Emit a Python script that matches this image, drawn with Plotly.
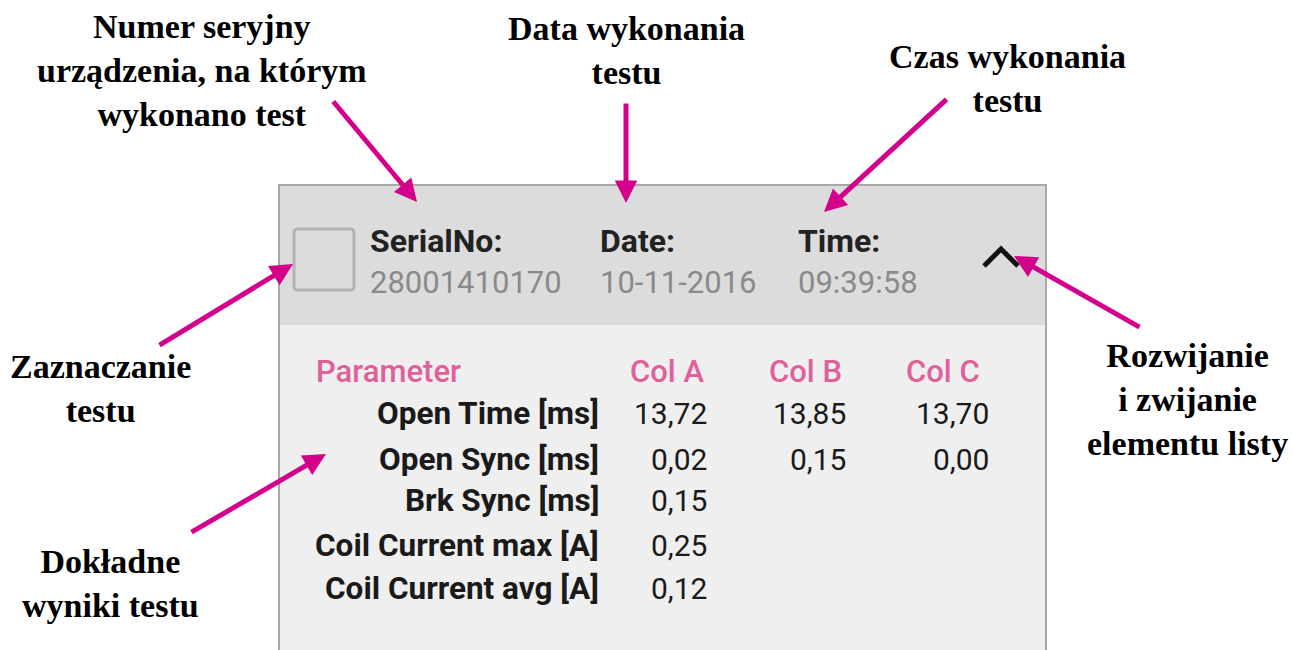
import plotly.graph_objects as go

# ---- data ----
header_labels = ["SerialNo:", "Date:", "Time:"]
header_values = ["28001410170", "10-11-2016", "09:39:58"]
table_columns = ["Parameter", "Col A", "Col B", "Col C"]
parameters = ["Open Time [ms]", "Open Sync [ms]", "Brk Sync [ms]",
              "Coil Current max [A]", "Coil Current avg [A]"]
col_a = ["13,72", "0,02", "0,15", "0,25", "0,12"]
col_b = ["13,85", "0,15", None, None, None]
col_c = ["13,70", "0,00", None, None, None]
callouts = [
    "Numer seryjny<br>urządzenia, na którym<br>wykonano test",
    "Data wykonania<br>testu",
    "Czas wykonania<br>testu",
    "Zaznaczanie<br>testu",
    "Dokładne<br>wyniki testu",
    "Rozwijanie<br>i zwijanie<br>elementu listy",
]

W, H = 1293, 650
MAG = "#d4008c"
PINK = "#e0609a"
SERIF = "Liberation Serif"
SANS = "Roboto"

fig = go.Figure()
shapes = []
ann = []

# panel
shapes.append(dict(type="rect", x0=279, x1=1046, y0=185, y1=660,
                   fillcolor="#efefef", line=dict(color="#a8a8a8", width=2), layer="below"))
shapes.append(dict(type="rect", x0=280, x1=1045, y0=186, y1=325,
                   fillcolor="#dcdcdc", line=dict(width=0), layer="below"))
# checkbox
shapes.append(dict(type="path",
                   path="M 298,229 L 350,229 Q 354,229 354,233 L 354,286 Q 354,290 350,290 "
                        "L 298,290 Q 294,290 294,286 L 294,233 Q 294,229 298,229 Z",
                   fillcolor="rgba(0,0,0,0)", line=dict(color="#b2b2b2", width=3)))
# chevron
shapes.append(dict(type="path", path="M 984,266 L 1001,249 L 1018,266",
                   line=dict(color="#111111", width=5)))

# header texts
hx = [368, 598, 796]
for x, lab, val in zip(hx, header_labels, header_values):
    ann.append(dict(x=x, y=241, text=f"<b>{lab}</b>", xanchor="left", yanchor="middle",
                    showarrow=False, font=dict(family=SANS, size=32, color="#222222")))
    ann.append(dict(x=x, y=282, text=val, xanchor="left", yanchor="middle",
                    showarrow=False, font=dict(family=SANS, size=31, color="#8a8a8a")))

# table header
ann.append(dict(x=314, y=371, text=table_columns[0], xanchor="left", yanchor="middle",
                showarrow=False, font=dict(family=SANS, size=31, color=PINK, weight=500)))
col_x = [667, 805, 943]
for x, c in zip(col_x, table_columns[1:]):
    ann.append(dict(x=x, y=371, text=c, xanchor="center", yanchor="middle",
                    showarrow=False, font=dict(family=SANS, size=31, color=PINK, weight=500)))

row_y = [413, 459, 500, 545, 588]
val_right = [709, 848, 991]
for i, p in enumerate(parameters):
    ann.append(dict(x=601, y=row_y[i], text=f"<b>{p}</b>", xanchor="right", yanchor="middle",
                    showarrow=False, font=dict(family=SANS, size=31.5, color="#1a1a1a")))
    for x, col in zip(val_right, [col_a, col_b, col_c]):
        if col[i] is not None:
            ann.append(dict(x=x, y=row_y[i], text=col[i], xanchor="right", yanchor="middle",
                            showarrow=False, font=dict(family=SANS, size=30, color="#1a1a1a")))

# callout texts
callout_pos = [(202, 28), (626, 30), (1007, 58), (100, 368), (110, 563), (1187, 357)]
for (x, y), t in zip(callout_pos, callouts):
    ann.append(dict(x=x, y=y, text=f"<b>{t}</b>", xanchor="center", yanchor="top",
                    yshift=22, showarrow=False, align="center",
                    font=dict(family=SERIF, size=34, color="#000000")))

# arrows (tail -> head)
arrows = [((332, 100), (417, 202)), ((626, 102), (626, 203)), ((948, 98), (824, 212)),
          ((158, 346), (293, 264)), ((190, 533), (326, 454)), ((1141, 328), (1014, 256))]
for (tx, ty), (hx_, hy) in arrows:
    ann.append(dict(x=hx_, y=hy, ax=tx, ay=ty, xref="x", yref="y", axref="x", ayref="y",
                    showarrow=True, arrowhead=2, arrowsize=0.9, arrowwidth=5,
                    arrowcolor=MAG, text=""))

fig.update_layout(
    width=W, height=H, margin=dict(l=0, r=0, t=0, b=0),
    paper_bgcolor="white", plot_bgcolor="white",
    xaxis=dict(range=[0, W], visible=False, fixedrange=True),
    yaxis=dict(range=[H, 0], visible=False, fixedrange=True),
    shapes=shapes, annotations=ann, showlegend=False,
)
fig.write_html("out.html", config={"displayModeBar": False},
               post_script="document.body.style.margin='0';document.body.style.overflow='hidden';")
